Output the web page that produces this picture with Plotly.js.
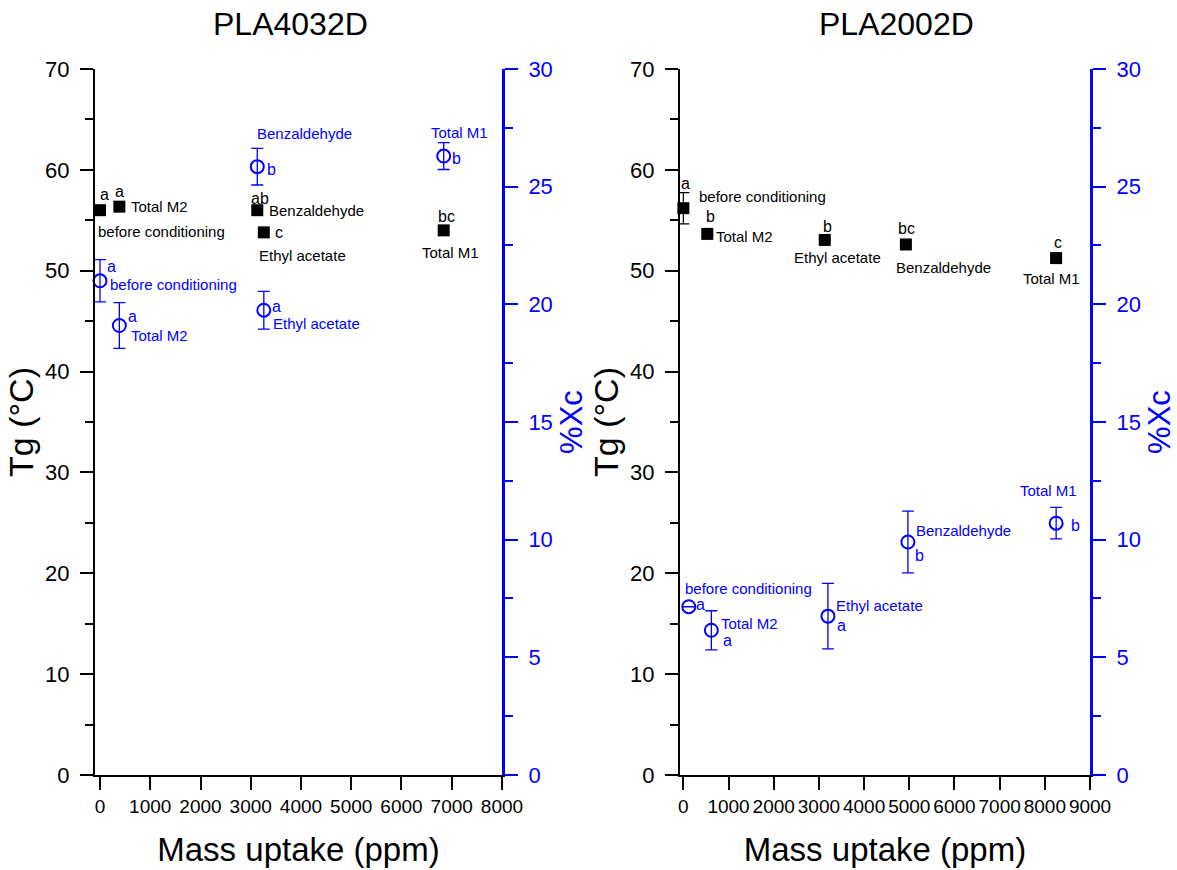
<!DOCTYPE html>
<html>
<head>
<meta charset="utf-8">
<script src="https://cdn.plot.ly/plotly-3.0.1.min.js"></script>
<style>
  html, body { margin: 0; padding: 0; background: #ffffff; }
  #chart { width: 1177px; height: 870px; }
</style>
</head>
<body>
<div id="chart"></div>
<script>
// ---- PLA4032D ----
const samples4032 = ['before conditioning', 'Total M2', 'Benzaldehyde', 'Ethyl acetate', 'Total M1'];
const uptake4032 = [0, 385, 3130, 3260, 6840];
const tg4032 = [56.0, 56.35, 56.0, 53.8, 54.0];
const tgLetters4032 = ['a', 'a', 'ab', 'c', 'bc'];
const xc4032 = [21.0, 19.1, 25.85, 19.75, 26.3];
const xcErr4032 = [0.9, 0.97, 0.78, 0.8, 0.57];
const xcLetters4032 = ['a', 'a', 'b', 'a', 'b'];

// ---- PLA2002D ----
const samples2002 = ['before conditioning', 'Total M2', 'Ethyl acetate', 'Benzaldehyde', 'Total M1'];
const uptakeTg2002 = [0, 530, 3130, 4925, 8250];
const tg2002 = [56.2, 53.65, 53.05, 52.6, 51.25];
const tgErr2002 = [1.55, 0, 0, 0, 0];
const tgLetters2002 = ['a', 'b', 'b', 'bc', 'c'];
const uptakeXc2002 = [120, 620, 3200, 4970, 8250];
const xc2002 = [7.15, 6.15, 6.75, 9.9, 10.7];
const xcErr2002 = [0, 0.83, 1.39, 1.31, 0.67];
const xcLetters2002 = ['a', 'a', 'a', 'b', 'b'];

// Label placement around each marker, in pixels: [dx, dy(up), xanchor]
const tgPlace4032 = {
  letter: [[4, 16, 'center'], [0, 15, 'center'], [3, 12, 'center'], [15, 0, 'center'], [3, 14, 'center']],
  name:   [[-4, -21, 'left'], [10, 0, 'left'], [10, 0, 'left'], [-7, -23, 'left'], [7, -22, 'center']]
};
const xcPlace4032 = {
  letter: [[11, 14, 'center'], [13, 9, 'center'], [14, -3, 'center'], [13, 4, 'center'], [13, -2, 'center']],
  name:   [[8, -4, 'left'], [10, -10, 'left'], [47, 33, 'center'], [7, -13, 'left'], [16, 24, 'center']]
};
const tgPlace2002 = {
  letter: [[2, 25, 'center'], [3, 17, 'center'], [3, 13, 'center'], [1, 16, 'center'], [2, 16, 'center']],
  name:   [[14, 12, 'left'], [7, -3, 'left'], [13, -18, 'center'], [38, -23, 'center'], [-5, -20, 'center']]
};
const xcPlace2002 = {
  letter: [[12, 2, 'center'], [16, -10, 'center'], [14, -9, 'center'], [12, -13, 'center'], [19, -2, 'center']],
  name:   [[-6, 18, 'left'], [8, 7, 'left'], [6, 11, 'left'], [6, 12, 'left'], [-8, 33, 'center']]
};

const FONT = 'Liberation Sans, Arial, sans-serif';
const BLUE = '#0000ff';
const BLACK = '#000000';

function tgTrace(x, y, err, xa, ya, name) {
  const t = {
    x: x, y: y, xaxis: xa, yaxis: ya, name: name,
    type: 'scatter', mode: 'markers', cliponaxis: false,
    marker: { symbol: 'square', size: 12, color: BLACK },
    hoverinfo: 'x+y'
  };
  if (err) {
    t.error_y = { type: 'data', array: err, visible: true, color: BLACK, thickness: 1.2, width: 6 };
  }
  return t;
}

function xcTrace(x, y, err, xa, ya, name) {
  return {
    x: x, y: y, xaxis: xa, yaxis: ya, name: name,
    type: 'scatter', mode: 'markers', cliponaxis: false,
    marker: { symbol: 'circle-open', size: 13, color: BLUE, line: { width: 2, color: BLUE } },
    error_y: { type: 'data', array: err, visible: true, color: BLUE, thickness: 1.3, width: 6 },
    hoverinfo: 'x+y'
  };
}

function labels(x, y, letters, names, place, xref, yref, color) {
  const out = [];
  for (let i = 0; i < x.length; i++) {
    const L = place.letter[i], N = place.name[i];
    out.push({
      x: x[i], y: y[i], xref: xref, yref: yref, text: letters[i], showarrow: false,
      xanchor: L[2], yanchor: 'middle', xshift: L[0], yshift: L[1],
      font: { family: FONT, size: 16, color: color }
    });
    out.push({
      x: x[i], y: y[i], xref: xref, yref: yref, text: names[i], showarrow: false,
      xanchor: N[2], yanchor: 'middle', xshift: N[0], yshift: N[1],
      font: { family: FONT, size: 15, color: color }
    });
  }
  return out;
}

const data = [
  tgTrace(uptake4032, tg4032, null, 'x', 'y', 'Tg PLA4032D'),
  xcTrace(uptake4032, xc4032, xcErr4032, 'x', 'y2', '%Xc PLA4032D'),
  tgTrace(uptakeTg2002, tg2002, tgErr2002, 'x2', 'y3', 'Tg PLA2002D'),
  xcTrace(uptakeXc2002, xc2002, xcErr2002, 'x2', 'y4', '%Xc PLA2002D')
];

const yDomain = [0.1092, 0.9207];

function xAxis(domain, anchor, range, dtick) {
  return {
    domain: domain, anchor: anchor, range: range, tick0: 0, dtick: dtick,
    ticks: 'outside', ticklen: 13, tickwidth: 2, tickcolor: BLACK,
    showline: true, linewidth: 2, linecolor: BLACK,
    showgrid: false, zeroline: false,
    tickfont: { family: FONT, size: 19, color: BLACK },
    title: { text: 'Mass uptake (ppm)', font: { family: FONT, size: 33, color: BLACK }, standoff: 22 }
  };
}

function tgAxis(anchor, standoff) {
  return {
    domain: yDomain, anchor: anchor, range: [0, 70], tick0: 0, dtick: 10,
    ticks: 'outside', ticklen: 13, tickwidth: 2, tickcolor: BLACK, ticklabelstandoff: 6,
    minor: { dtick: 5, ticks: 'outside', ticklen: 8, tickwidth: 2, tickcolor: BLACK, showgrid: false },
    showline: true, linewidth: 2, linecolor: BLACK,
    showgrid: false, zeroline: false,
    tickfont: { family: FONT, size: 22, color: BLACK },
    title: { text: 'Tg (°C)', font: { family: FONT, size: 34, color: BLACK }, standoff: standoff }
  };
}

function xcAxis(overlay, anchor, standoff) {
  return {
    overlaying: overlay, side: 'right', anchor: anchor, range: [0, 30], tick0: 0, dtick: 5,
    ticks: 'outside', ticklen: 13, tickwidth: 2, tickcolor: BLUE, ticklabelstandoff: 6,
    minor: { dtick: 2.5, ticks: 'outside', ticklen: 8, tickwidth: 2, tickcolor: BLUE, showgrid: false },
    showline: true, linewidth: 3, linecolor: BLUE,
    showgrid: false, zeroline: false,
    tickfont: { family: FONT, size: 22, color: BLUE },
    title: { text: '%Xc', font: { family: FONT, size: 31, color: BLUE }, standoff: standoff }
  };
}

const annotations = [].concat(
  labels(uptake4032, tg4032, tgLetters4032, samples4032, tgPlace4032, 'x', 'y', BLACK),
  labels(uptake4032, xc4032, xcLetters4032, samples4032, xcPlace4032, 'x', 'y2', BLUE),
  labels(uptakeTg2002, tg2002, tgLetters2002, samples2002, tgPlace2002, 'x2', 'y3', BLACK),
  labels(uptakeXc2002, xc2002, xcLetters2002, samples2002, xcPlace2002, 'x2', 'y4', BLUE),
  [
    { text: 'PLA4032D', xref: 'paper', yref: 'paper', x: 0.2464, y: 0.9724, showarrow: false,
      xanchor: 'center', yanchor: 'middle', font: { family: FONT, size: 32, color: BLACK } },
    { text: 'PLA2002D', xref: 'paper', yref: 'paper', x: 0.7621, y: 0.9724, showarrow: false,
      xanchor: 'center', yanchor: 'middle', font: { family: FONT, size: 32, color: BLACK } }
  ]
);

const layout = {
  width: 1177, height: 870,
  margin: { l: 0, r: 0, t: 0, b: 0 },
  paper_bgcolor: '#ffffff', plot_bgcolor: '#ffffff',
  showlegend: false,
  font: { family: FONT, color: BLACK },
  xaxis: xAxis([0.0807, 0.4265], 'y', [-100, 8000], 1000),
  yaxis: tgAxis('x', 1),
  yaxis2: xcAxis('y', 'x', 9),
  xaxis2: xAxis([0.5777, 0.9261], 'y3', [-75, 9000], 1000),
  yaxis3: tgAxis('x2', 1),
  yaxis4: xcAxis('y3', 'x2', 9),
  annotations: annotations
};

Plotly.newPlot('chart', data, layout, { displayModeBar: false, responsive: false });
</script>
</body>
</html>
